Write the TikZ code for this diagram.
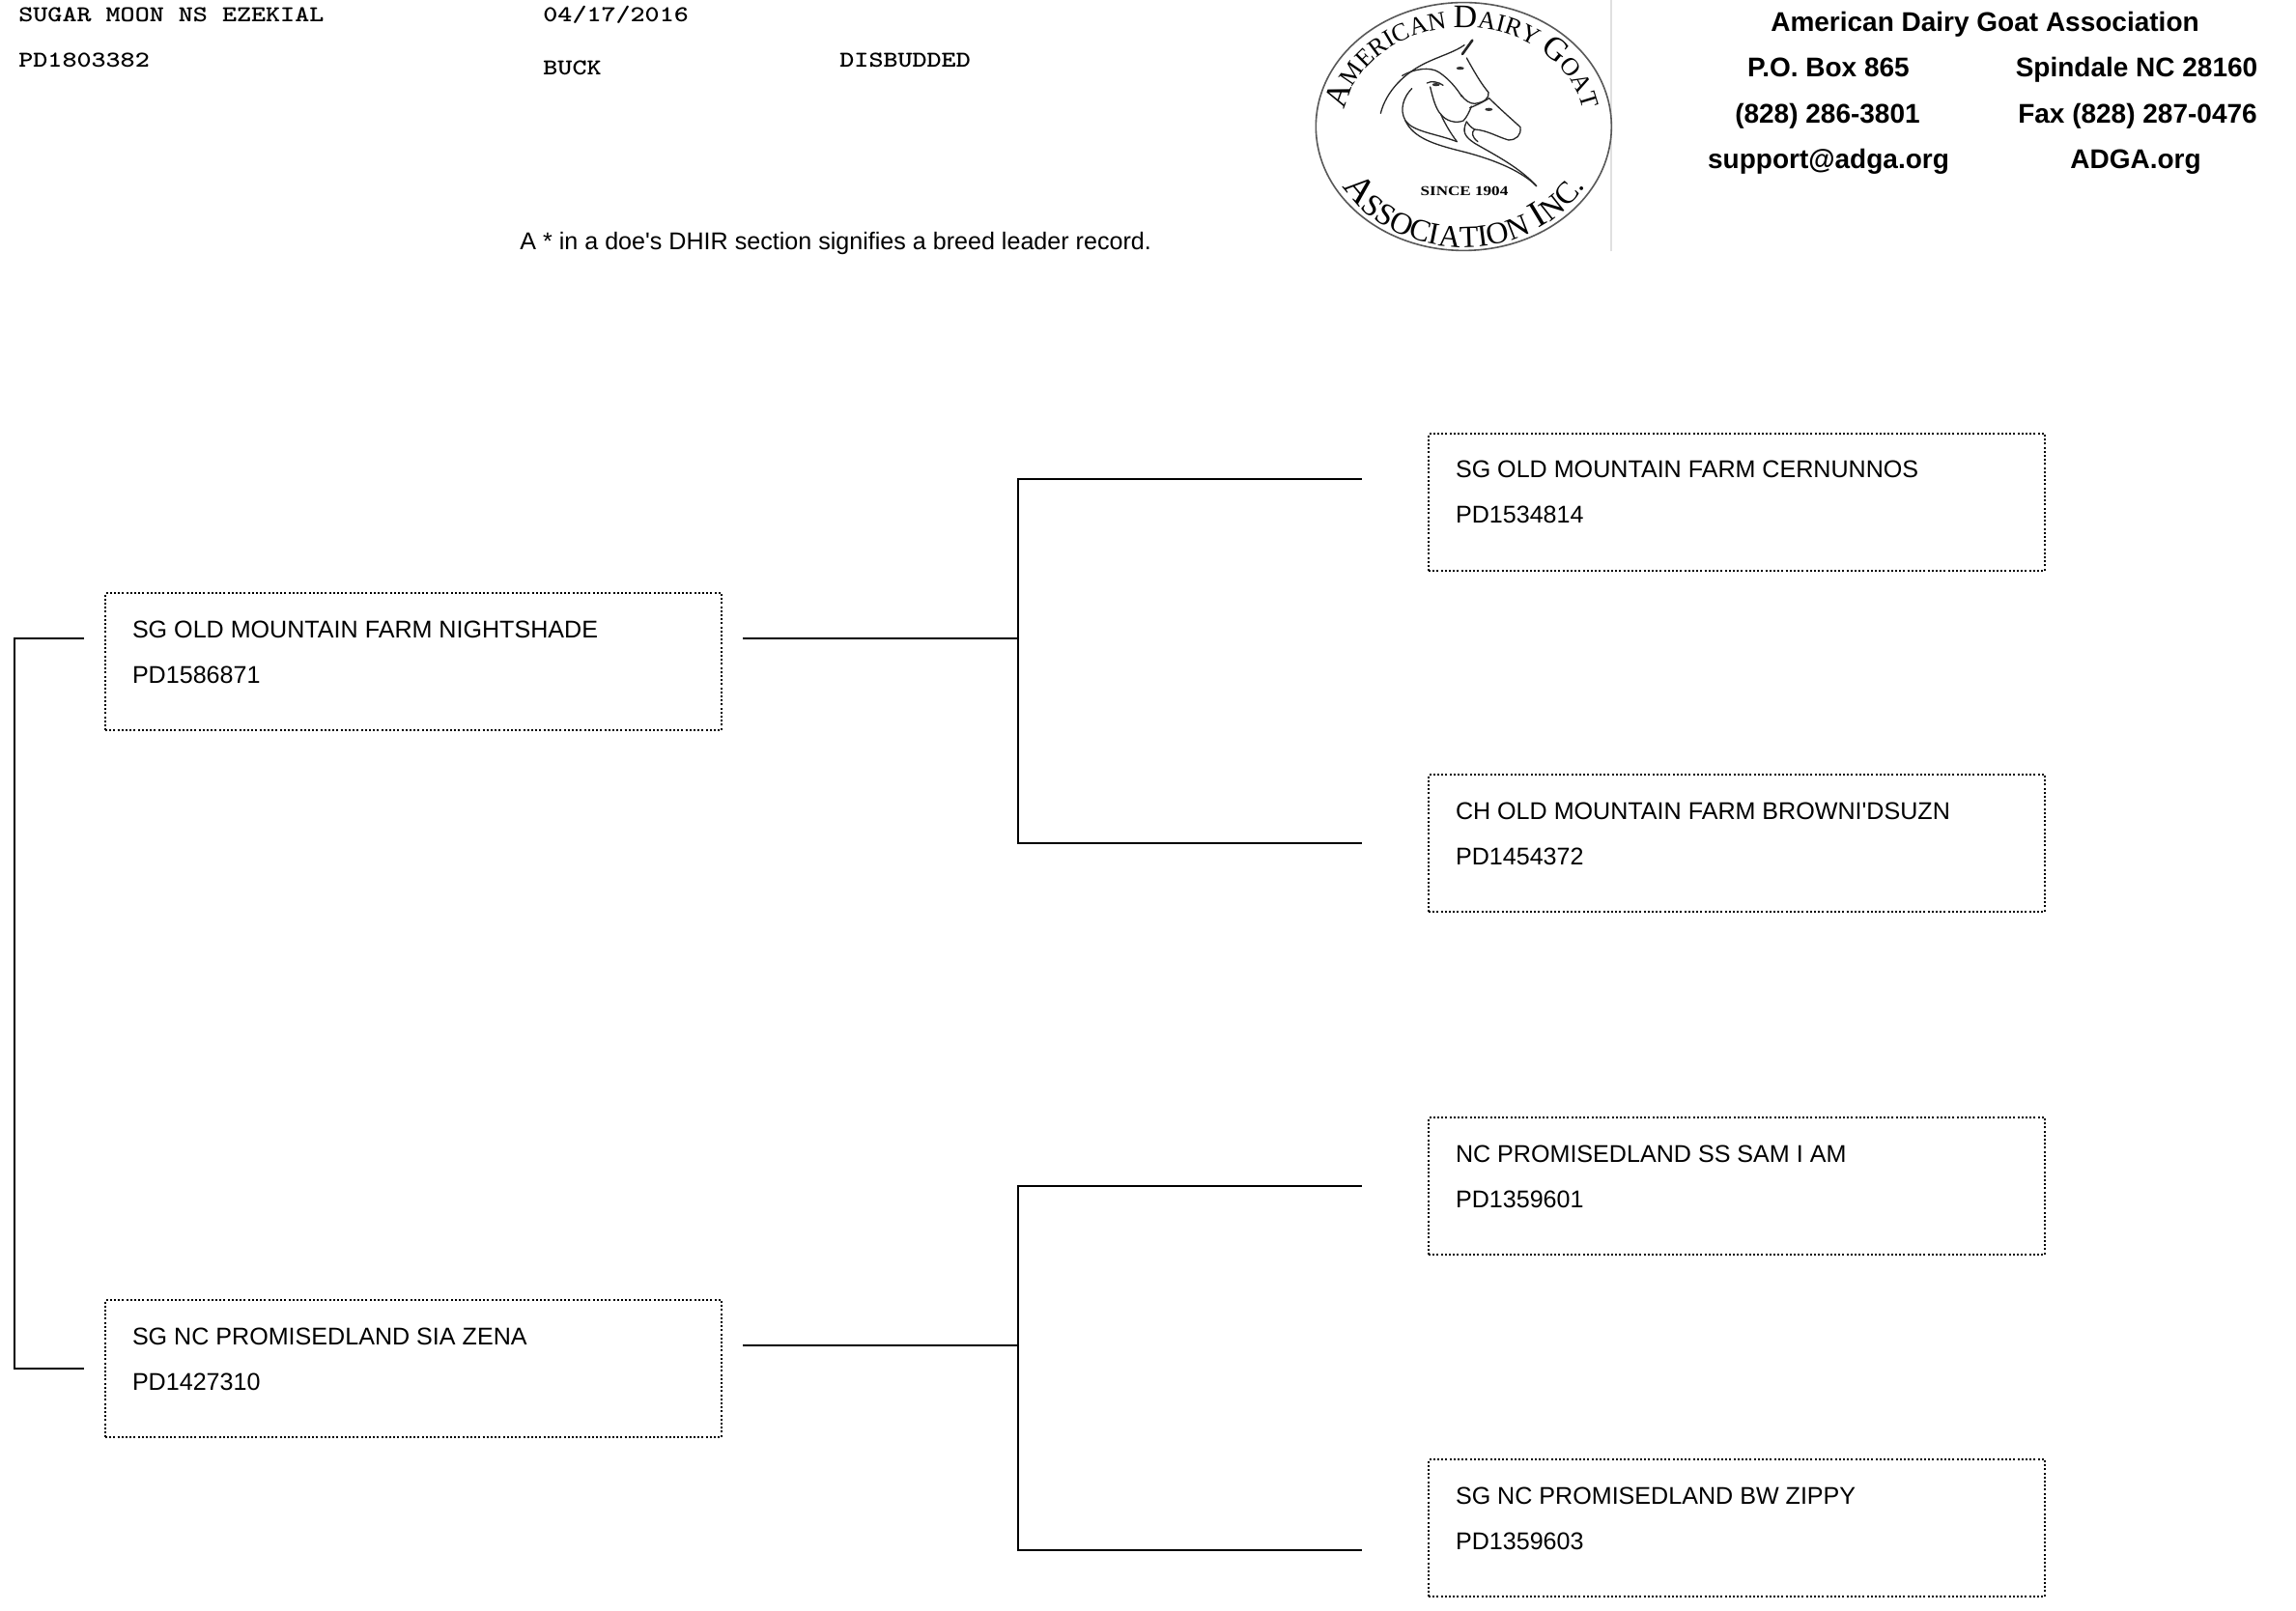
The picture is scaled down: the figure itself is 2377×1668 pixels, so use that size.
\documentclass[tikz,border=0pt]{standalone}
\usepackage{fontspec}
\setmainfont{Liberation Sans}
\newfontfamily\plainsans{Liberation Sans}
\newfontfamily\logofont{Liberation Serif}
\usetikzlibrary{decorations.text}
\newcommand{\pedtext}[2]{\parbox[c][71pt][t]{319pt}{\plainsans\fontsize{12.55pt}{23.5pt}\selectfont\setlength{\leftskip}{14pt}\setlength{\parindent}{0pt}\rule{0pt}{23pt}#1\par #2}}
\newcommand{\LG}{\fontsize{17pt}{17pt}\selectfont}
\newcommand{\SM}{\fontsize{13pt}{13pt}\selectfont}
\newcommand{\LGB}{\fontsize{19.5pt}{19pt}\selectfont}
\newcommand{\SMB}{\fontsize{16pt}{16pt}\selectfont}
\tikzset{
  conn/.style={line width=1pt,draw=black},
  pedbox/.style={draw=black,line width=1pt,dash pattern=on 1pt off 1.1pt,anchor=north west,inner sep=0pt,outer sep=0pt},
  monotext/.style={anchor=base west,inner sep=0pt},
  headtext/.style={anchor=base,inner sep=0pt,font=\fontsize{14pt}{15pt}\selectfont\bfseries},
  note/.style={anchor=base west,inner sep=0pt,font=\plainsans\fontsize{12.55pt}{14pt}\selectfont},
  art/.style={draw=black!85,line width=0.65pt,line cap=round,line join=round},
  logotext/.style={decoration={text along path,text align=center,text={#1}},decorate}
}
\newcommand{\mono}[1]{\scalebox{1}[0.82]{\ttfamily\bfseries\fontsize{14.33pt}{15pt}\selectfont #1}}
\begin{document}
\begin{tikzpicture}[x=0.5pt,y=-0.5pt]
\fill[white] (0,0) rectangle (2377,1668);
\useasboundingbox (0,0) rectangle (2377,1668);

% header texts
\node[monotext] (nm) at (19,23) {\mono{SUGAR MOON NS EZEKIAL}};
\node[monotext] (id) at (19,70) {\mono{PD1803382}};
\node[monotext] (dt) at (562,23) {\mono{04/17/2016}};
\node[monotext] (sx) at (562,78) {\mono{BUCK}};
\node[monotext] (ds) at (869,70) {\mono{DISBUDDED}};
\node[note] (nt) at (538,259) {A * in a doe's DHIR section signifies a breed leader record.};

\node[headtext] (h0) at (2055,33) {American Dairy Goat Association};
\node[headtext] (h1) at (1893,80) {P.O. Box 865};
\node[headtext] (h2) at (2212,80) {Spindale NC 28160};
\node[headtext] (h3) at (1892,128) {(828) 286-3801};
\node[headtext] (h4) at (2213,128) {Fax (828) 287-0476};
\node[headtext] (h5) at (1893,175) {support@adga.org};
\node[headtext] (h6) at (2211,175) {ADGA.org};

% logo
\draw[black!12,line width=0.6pt] (1668,0) -- (1668,260);
\begin{scope}[shift={(1340,0)},x=1/6 pt,y=-1/6 pt]
  \draw[draw=black!65,line width=0.8pt] (526,393) ellipse[x radius=76.5pt,y radius=64.2pt];
  \path[logotext={|\logofont\LG|A|\logofont\SM|MERICAN |\logofont\LG|D|\logofont\SM|AIRY |\logofont\LG|G|\logofont\SM|OAT}] (160.6,323.7) .. controls (199.9,184) and (351.4,85) .. (526,85) .. controls (700.6,85) and (852.1,184) .. (891.4,323.7);
  \path[logotext={|\logofont\LGB|A|\logofont\SMB|SSOCIATION |\logofont\LGB|I|\logofont\SMB|NC.}] (126.5,539.5) .. controls (194.6,678) and (351.8,768) .. (526,768) .. controls (700.2,768) and (857.4,678) .. (925.5,539.5);
  \node[inner sep=0pt,anchor=center,font=\logofont\bfseries\fontsize{7pt}{8pt}\selectfont] (since) at (528,595) {\scalebox{1.22}[1]{SINCE 1904}};
  % big goat
  \draw[art] (268,352) .. controls (285,285) and (340,225) .. (420,190) .. controls (460,172) and (500,160) .. (528,140);
  \draw[art,line width=1.3pt] (522,168) -- (553,125);
  \draw[art] (535,180) .. controls (560,225) and (580,260) .. (603,287) .. controls (606,305) and (590,318) .. (560,322) .. controls (545,322) and (530,312) .. (518,295);
  \draw[art] (335,235) .. controls (370,215) and (420,205) .. (450,225) .. controls (480,245) and (505,275) .. (520,300);
  \fill[black!80] (515,212) ellipse[x radius=2pt,y radius=0.8pt];
  % middle goat
  \draw[art] (412,258) .. controls (425,250) and (450,255) .. (462,265);
  \fill[black!80] (440,263) ellipse[x radius=2pt,y radius=0.8pt];
  \draw[art] (422,270) .. controls (430,305) and (440,340) .. (455,355) .. controls (470,375) and (500,385) .. (525,375) .. controls (535,365) and (545,345) .. (550,330);
  \draw[art] (365,275) .. controls (340,300) and (325,340) .. (345,375) .. controls (370,410) and (440,415) .. (505,440);
  \draw[art] (505,440) .. controls (490,420) and (470,390) .. (455,355);
  \draw[art] (345,375) .. controls (370,430) and (440,450) .. (520,470) .. controls (600,490) and (700,525) .. (752,578);
  % front goat
  \draw[art] (545,335) .. controls (570,325) and (590,315) .. (605,305) .. controls (640,340) and (675,370) .. (702,395) .. controls (705,420) and (690,435) .. (665,435) .. controls (630,425) and (600,405) .. (560,402) .. controls (550,398) and (540,385) .. (535,378);
  \draw[art] (535,378) .. controls (520,410) and (530,425) .. (560,445) .. controls (620,480) and (700,520) .. (752,578);
  \draw[art] (560,402) .. controls (550,410) and (550,425) .. (570,440);
  \fill[black!80] (604,340) ellipse[x radius=2pt,y radius=0.8pt];
\end{scope}

% pedigree boxes
\node[pedbox] (sire) at (109,614) {\pedtext{SG OLD MOUNTAIN FARM NIGHTSHADE}{PD1586871}};
\node[pedbox] (dam) at (109,1346) {\pedtext{SG NC PROMISEDLAND SIA ZENA}{PD1427310}};
\node[pedbox] (ss) at (1479,449) {\pedtext{SG OLD MOUNTAIN FARM CERNUNNOS}{PD1534814}};
\node[pedbox] (sd) at (1479,802) {\pedtext{CH OLD MOUNTAIN FARM BROWNI'DSUZN}{PD1454372}};
\node[pedbox] (ds2) at (1479,1157) {\pedtext{NC PROMISEDLAND SS SAM I AM}{PD1359601}};
\node[pedbox] (dd) at (1479,1511) {\pedtext{SG NC PROMISEDLAND BW ZIPPY}{PD1359603}};

% connector ends
\coordinate (l1) at (87,661);
\coordinate (l2) at (87,1417);
\coordinate (lt) at (15,661);
\coordinate (lb) at (15,1417);
\coordinate (r1) at (769,661);
\coordinate (j1) at (1054,661);
\coordinate (a1) at (1410,496);
\coordinate (a2) at (1410,873);
\coordinate (b1) at (1054,496);
\coordinate (b2) at (1054,873);
\coordinate (r2) at (769,1393);
\coordinate (j2) at (1054,1393);
\coordinate (c1) at (1410,1228);
\coordinate (c2) at (1410,1605);
\coordinate (d1) at (1054,1228);
\coordinate (d2) at (1054,1605);

\draw[conn] (l1) -- (lt) -- (lb) -- (l2);
\draw[conn] (r1) -- (j1);
\draw[conn] (a1) -- (b1) -- (b2) -- (a2);
\draw[conn] (r2) -- (j2);
\draw[conn] (c1) -- (d1) -- (d2) -- (c2);
\end{tikzpicture}
\end{document}
